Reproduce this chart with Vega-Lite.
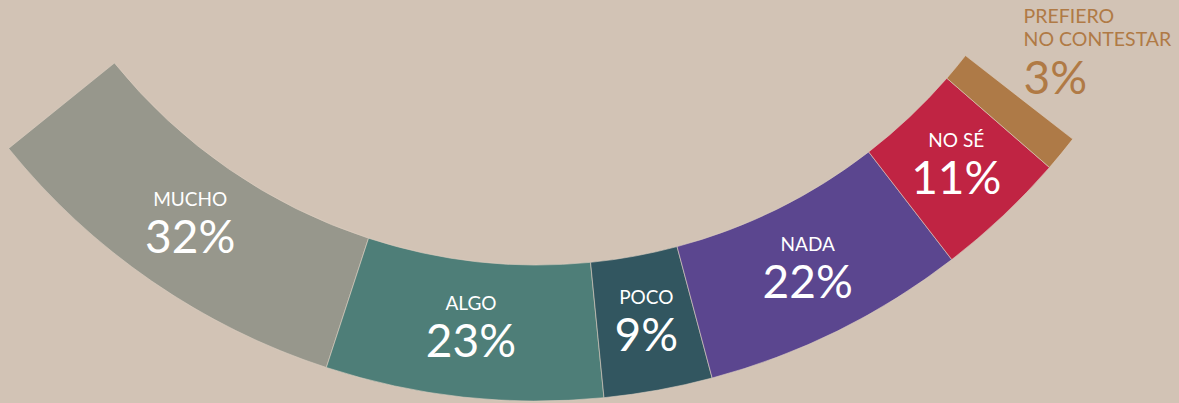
{
  "$schema": "https://vega.github.io/schema/vega-lite/v6.json",
  "width": 1179,
  "height": 403,
  "autosize": {"type": "fit", "contains": "padding"},
  "padding": 0,
  "background": "#d2c3b5",
  "view": {"stroke": null},
  "data": {
    "values": [
      {"orden": 1, "cat": "MUCHO", "share": 0.32},
      {"orden": 2, "cat": "ALGO", "share": 0.23},
      {"orden": 3, "cat": "POCO", "share": 0.09},
      {"orden": 4, "cat": "NADA", "share": 0.22},
      {"orden": 5, "cat": "NO SÉ", "share": 0.11},
      {"orden": 6, "cat": "PREFIERO NO CONTESTAR", "share": 0.03}
    ]
  },
  "encoding": {
    "theta": {"field": "share", "type": "quantitative", "stack": true, "scale": {"range": [4.0334, 2.2323]}},
    "order": {"field": "orden", "type": "quantitative"}
  },
  "layer": [
    {
      "mark": {"type": "arc", "x": 537, "y": -278, "outerRadius": 679, "innerRadius": 543, "stroke": "#ddd0c2", "strokeWidth": 0.6},
      "encoding": {
        "color": {
          "field": "cat",
          "type": "nominal",
          "scale": {
            "domain": ["MUCHO", "ALGO", "POCO", "NADA", "NO SÉ", "PREFIERO NO CONTESTAR"],
            "range": ["#97978c", "#4e7e78", "#325660", "#5b468f", "#c02443", "#ae7a47"]
          },
          "legend": null
        }
      }
    },
    {
      "mark": {"type": "text", "x": 537, "y": -278, "radius": 611, "dy": -19, "font": "Lato", "fontSize": 19, "color": "#ffffff", "align": "center", "baseline": "alphabetic"},
      "encoding": {
        "detail": {"field": "cat", "type": "nominal"},
        "text": {"condition": {"test": "datum.orden == 6", "value": ""}, "field": "cat", "type": "nominal"}
      }
    },
    {
      "mark": {"type": "text", "x": 537, "y": -278, "radius": 611, "dy": 28, "font": "Lato", "fontSize": 46, "color": "#ffffff", "align": "center", "baseline": "alphabetic"},
      "encoding": {
        "detail": {"field": "cat", "type": "nominal"},
        "text": {"condition": {"test": "datum.orden == 6", "value": ""}, "field": "share", "type": "quantitative", "format": ".0%"}
      }
    },
    {
      "mark": {"type": "text", "x": 537, "y": -278, "radius": 700, "dx": -54, "dy": -144, "font": "Lato", "fontSize": 19.5, "lineHeight": 23, "color": "#b07a45", "align": "left", "baseline": "alphabetic"},
      "encoding": {
        "detail": {"field": "cat", "type": "nominal"},
        "text": {"condition": {"test": "datum.orden == 6", "value": ["PREFIERO", "NO CONTESTAR"]}, "value": ""}
      }
    },
    {
      "mark": {"type": "text", "x": 537, "y": -278, "radius": 700, "dx": -54, "dy": -73, "font": "Lato", "fontSize": 46, "color": "#b07a45", "align": "left", "baseline": "alphabetic"},
      "encoding": {
        "detail": {"field": "cat", "type": "nominal"},
        "text": {"condition": {"test": "datum.orden != 6", "value": ""}, "field": "share", "type": "quantitative", "format": ".0%"}
      }
    }
  ]
}
